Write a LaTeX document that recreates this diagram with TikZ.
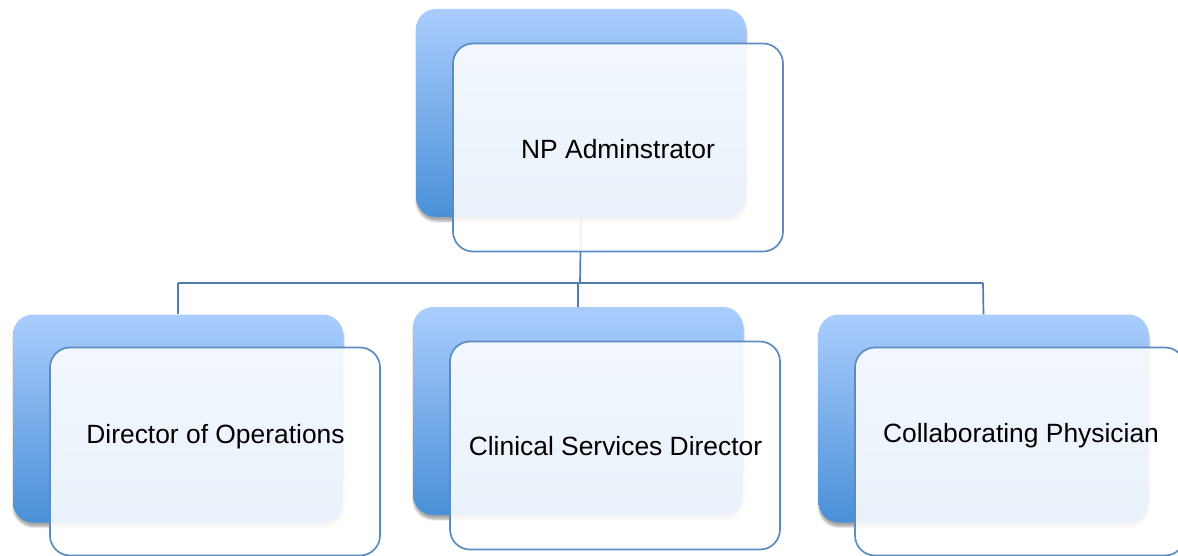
\documentclass[tikz,border=0pt]{standalone}
\usepackage{fontspec}
\setmainfont{Liberation Sans}
\usetikzlibrary{shadows.blur}
\definecolor{backtop}{HTML}{AACDFD}
\definecolor{backbot}{HTML}{4A90D8}
\definecolor{edgeblue}{HTML}{5A8CC2}
\definecolor{linkblue}{HTML}{4F7DAE}
\tikzset{
  backbox/.style={rounded corners=20pt, minimum width=330pt, minimum height=208pt,
    inner sep=0pt, top color=backtop, bottom color=backbot, draw=none,
    blur shadow={shadow xshift=0.5pt, shadow yshift=-4pt, shadow blur steps=6, shadow opacity=35}},
  frontbox/.style={rounded corners=20pt, minimum width=330pt, minimum height=208pt,
    inner sep=0pt, fill=white, fill opacity=0.88, draw=edgeblue, line width=1.7pt},
  label/.style={font=\fontsize{26.4}{30}\selectfont, text=black, anchor=base, inner sep=0pt},
  link/.style={draw=linkblue, line width=1.7pt}
}
\begin{document}
\begin{tikzpicture}[x=1pt,y=-1pt]
\useasboundingbox (0,0) rectangle (1178,556);
% back boxes
\node[backbox] (topb) at (581,113) {};
\node[backbox] (leftb) at (178,418.5) {};
\node[backbox] (midb) at (578,411) {};
\node[backbox] (rightb) at (983.5,418.5) {};
% connectors
\coordinate (bus) at (580,283);
\coordinate (busL) at (178,283);
\coordinate (busR) at (983,283);
\coordinate (busM) at (578,283);
\draw[link] (topb.south) -- (bus);
\draw[link] (busL) -- (busR);
\draw[link] (busL) -- (leftb.north);
\draw[link] (busM) -- (midb.north);
\draw[link] (busR) -- (rightb.north);
% front boxes
\node[frontbox] (topf) at (618,147.5) {};
\node[frontbox] (leftf) at (215,451.5) {};
\node[frontbox] (midf) at (615,445.5) {};
\node[frontbox] (rightf) at (1020,451.5) {};
% labels
\node[label] (topt) at (618,158.3) {NP Adminstrator};
\node[label] (leftt) at (215.5,443.3) {Director of Operations};
\node[label] (midt) at (615.5,455) {Clinical Services Director};
\node[label] (rightt) at (1021,442.7) {Collaborating Physician};
\end{tikzpicture}
\end{document}
